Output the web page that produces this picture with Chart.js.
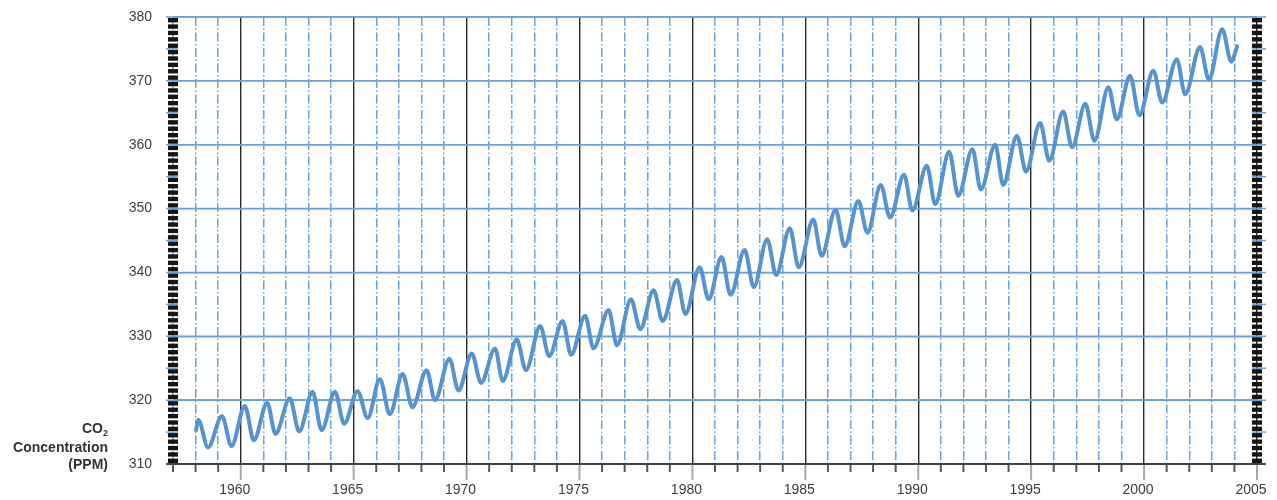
<!DOCTYPE html>
<html>
<head>
<meta charset="utf-8">
<title>CO2 Concentration</title>
<script src="https://cdn.jsdelivr.net/npm/chart.js@4.4.1/dist/chart.umd.min.js"></script>
<style>
  body { margin: 0; background: #fff; }
  #wrap { width: 1277px; height: 500px; }
</style>
</head>
<body>
<div id="wrap"><canvas id="co2Chart"></canvas></div>
<script>
// seasonal peaks and troughs (decimal year, ppm)
const sampleYears = [
  1958.02, 1958.12, 1958.55, 1959.17, 1959.59, 1960.18, 1960.58, 1961.17, 1961.54,
  1962.17, 1962.59, 1963.18, 1963.58, 1964.17, 1964.58, 1965.17, 1965.62, 1966.16,
  1966.60, 1967.17, 1967.60, 1968.23, 1968.60, 1969.24, 1969.64, 1970.23, 1970.64,
  1971.26, 1971.60, 1972.22, 1972.63, 1973.26, 1973.66, 1974.25, 1974.63, 1975.25,
  1975.62, 1976.29, 1976.66, 1977.28, 1977.69, 1978.28, 1978.68, 1979.32, 1979.69,
  1980.32, 1980.72, 1981.29, 1981.69, 1982.31, 1982.72, 1983.31, 1983.71, 1984.31,
  1984.71, 1985.35, 1985.72, 1986.34, 1986.74, 1987.35, 1987.75, 1988.34, 1988.75,
  1989.37, 1989.74, 1990.38, 1990.75, 1991.37, 1991.77, 1992.40, 1992.77, 1993.41,
  1993.76, 1994.37, 1994.77, 1995.40, 1995.80, 1996.42, 1996.81, 1997.40, 1997.80,
  1998.42, 1998.79, 1999.38, 1999.79, 2000.41, 2000.80, 2001.45, 2001.82, 2002.48,
  2002.87, 2003.46, 2003.86, 2004.12
];
const co2Ppm = [
  315.3, 316.9, 312.6, 317.5, 312.8, 319.1, 313.7, 319.6, 314.7,
  320.3, 315.1, 321.3, 315.3, 321.3, 316.3, 321.4, 317.2, 323.3,
  317.8, 324.1, 318.9, 324.7, 320.0, 326.5, 321.5, 327.3, 322.7,
  328.1, 323.0, 329.5, 324.7, 331.6, 326.9, 332.4, 327.1, 333.2,
  328.1, 334.1, 328.6, 335.8, 331.1, 337.2, 332.4, 338.8, 333.5,
  340.8, 335.8, 342.4, 336.5, 343.5, 337.7, 345.2, 339.6, 346.9,
  340.8, 348.3, 342.6, 349.8, 344.1, 351.2, 346.2, 353.7, 348.6,
  355.3, 349.7, 356.7, 350.7, 358.9, 352.0, 359.3, 353.0, 360.0,
  353.7, 361.4, 355.8, 363.4, 357.5, 365.2, 359.6, 366.4, 360.6,
  369.0, 364.0, 370.8, 364.6, 371.6, 366.6, 373.4, 367.9, 375.3,
  370.2, 378.1, 373.0, 375.4
];

const yearMin = 1957, yearMax = 2005;
const ppmMin = 310, ppmMax = 380;
const lineBlue = '#5793cd';
const gridBlue = '#6aa3d8';
const fontFamily = '"Liberation Sans", Arial, Helvetica, sans-serif';

const points = sampleYears.map((yr, i) => ({ x: yr, y: co2Ppm[i] }));

function seg(ctx, x1, y1, x2, y2) {
  ctx.beginPath();
  ctx.moveTo(x1, y1);
  ctx.lineTo(x2, y2);
  ctx.stroke();
}

// ruler strips, grid extensions, bottom axis ticks
const framePlugin = {
  id: 'frame',
  beforeDatasetsDraw(chart) {
    const { ctx, chartArea: a, scales: { x, y } } = chart;
    ctx.save();
    ctx.fillStyle = '#151515';
    for (let v = ppmMin; v < ppmMax; v++) {
      const top = y.getPixelForValue(v + 1);
      const bot = y.getPixelForValue(v);
      ctx.fillRect(a.left - 5, top + 1, 10, bot - top - 2);
      ctx.fillRect(a.right - 5, top + 1, 10, bot - top - 2);
    }
    ctx.strokeStyle = gridBlue;
    ctx.lineWidth = 1.5;
    y.ticks.forEach(t => {
      const py = y.getPixelForValue(t.value);
      seg(ctx, a.left - 7, py, a.right + 9, py);
    });
    for (let v = ppmMin + 5; v < ppmMax; v += 10) {
      const py = y.getPixelForValue(v);
      seg(ctx, a.left - 7, py, a.left + 5, py);
      seg(ctx, a.right - 5, py, a.right + 9, py);
    }
    ctx.lineWidth = 2;
    x.ticks.forEach(t => {
      const px = x.getPixelForValue(t.value);
      const major = t.value % 5 === 0;
      ctx.strokeStyle = major ? '#a8a8a8' : '#555';
      seg(ctx, px, a.bottom + 1, px, a.bottom + (major ? 16 : 8));
    });
    ctx.strokeStyle = '#222';
    ctx.lineWidth = 1.6;
    seg(ctx, a.left - 7, a.bottom, a.right + 9, a.bottom);
    ctx.restore();
  },
  afterDraw(chart) {
    const { ctx } = chart;
    const right = 108;
    ctx.save();
    ctx.fillStyle = '#333';
    ctx.textAlign = 'right';
    ctx.textBaseline = 'alphabetic';
    ctx.font = 'bold 9px ' + fontFamily;
    ctx.fillText('2', right, 435.5);
    const subW = ctx.measureText('2').width;
    ctx.font = 'bold 14px ' + fontFamily;
    ctx.fillText('CO', right - subW, 433);
    ctx.fillText('Concentration', right, 452);
    ctx.fillText('(PPM)', right, 469);
    ctx.restore();
  }
};

const ctx = document.getElementById('co2Chart').getContext('2d');
new Chart(ctx, {
  type: 'line',
  data: {
    datasets: [{
      label: 'CO2',
      data: points,
      borderColor: lineBlue,
      borderWidth: 4,
      borderCapStyle: 'round',
      borderJoinStyle: 'round',
      cubicInterpolationMode: 'monotone',
      pointRadius: 0,
      fill: false
    }]
  },
  options: {
    responsive: true,
    maintainAspectRatio: false,
    animation: false,
    layout: { padding: { top: 17, right: 20, left: 0, bottom: 0 } },
    plugins: {
      legend: { display: false },
      tooltip: { enabled: false }
    },
    scales: {
      x: {
        type: 'linear',
        min: yearMin,
        max: yearMax,
        afterFit: s => { s.height = 36; s.paddingLeft = 0; s.paddingRight = 0; },
        border: {
          display: false,
          dash: c => (c.tick && c.tick.value % 5 === 0) ? [] : [9, 2.5, 1.5, 2.5]
        },
        grid: {
          drawTicks: false,
          color: c => (c.tick && c.tick.value % 5 === 0) ? '#2a2a2a' : gridBlue,
          lineWidth: c => (c.tick && c.tick.value % 5 === 0) ? 1.4 : 1.5
        },
        ticks: {
          stepSize: 1,
          autoSkip: false,
          maxRotation: 0,
          padding: 18,
          labelOffset: -6,
          color: '#3d3d3d',
          font: { family: fontFamily, size: 14 },
          callback: v => (v % 5 === 0 ? String(v) : '')
        }
      },
      y: {
        min: ppmMin,
        max: ppmMax,
        afterFit: s => { s.width = 173; s.paddingTop = 0; s.paddingBottom = 0; },
        border: { display: false },
        grid: { drawTicks: false, color: gridBlue, lineWidth: 1.5 },
        ticks: {
          stepSize: 10,
          padding: 21,
          color: '#3d3d3d',
          font: { family: fontFamily, size: 14 },
          callback: v => String(v)
        }
      }
    }
  },
  plugins: [framePlugin]
});
</script>
</body>
</html>
